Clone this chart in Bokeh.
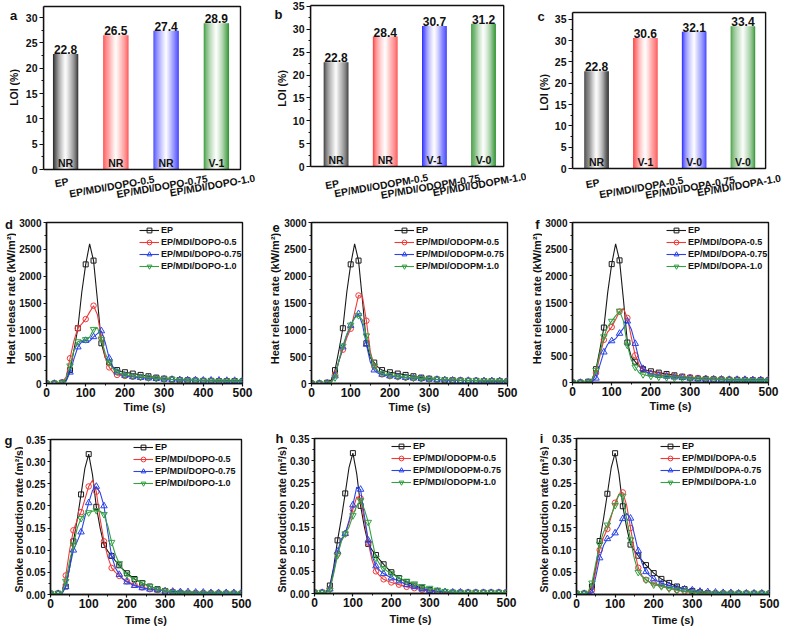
import math
from bokeh.plotting import figure
from bokeh.layouts import row, column
from bokeh.core.properties import value
from bokeh.models import (ColumnDataSource, FixedTicker, Label, LabelSet, Legend, BoxAnnotation,
                          LegendItem, Range1d, PrintfTickFormatter)
from bokeh.embed import file_html
from bokeh.resources import INLINE

# ---------------- data ----------------
cats_dopo = ["EP", "EP/MDI/DOPO-0.5", "EP/MDI/DOPO-0.75", "EP/MDI/DOPO-1.0"]
cats_odopm = ["EP", "EP/MDI/ODOPM-0.5", "EP/MDI/ODOPM-0.75", "EP/MDI/ODOPM-1.0"]
cats_dopa = ["EP", "EP/MDI/DOPA-0.5", "EP/MDI/DOPA-0.75", "EP/MDI/DOPA-1.0"]

loi_dopo = [22.8, 26.5, 27.4, 28.9]
loi_odopm = [22.8, 28.4, 30.7, 31.2]
loi_dopa = [22.8, 30.6, 32.1, 33.4]

ul94_dopo = ["NR", "NR", "NR", "V-1"]
ul94_odopm = ["NR", "NR", "V-1", "V-0"]
ul94_dopa = ["NR", "V-1", "V-0", "V-0"]

time_s = [0, 10, 20, 30, 40, 50, 60, 70, 80, 90, 100, 110, 120, 130, 140, 150, 160, 170, 180, 190, 200,
          220, 240, 260, 280, 300, 320, 340, 360, 380, 400, 420, 440, 460, 480, 500]

hrr_ep = [0, 0, 0, 5, 15, 60, 250, 620, 1030, 1700, 2220, 2600, 2290, 1550, 750, 480, 390, 300, 250, 225, 210,
          185, 160, 135, 110, 90, 75, 65, 60, 55, 50, 50, 45, 45, 45, 40]
hrr_dopo_05 = [0, 0, 0, 5, 20, 120, 470, 800, 1030, 1110, 1200, 1330, 1450, 1280, 850, 480, 300, 210, 160, 150, 140,
               125, 115, 105, 95, 85, 75, 65, 60, 55, 50, 50, 45, 45, 40, 40]
hrr_dopo_075 = [0, 0, 0, 0, 5, 40, 210, 460, 680, 780, 800, 790, 870, 930, 980, 760, 470, 300, 210, 170, 150,
                125, 110, 100, 90, 80, 75, 70, 65, 65, 60, 60, 60, 55, 55, 55]
hrr_dopo_10 = [0, 0, 0, 3, 15, 90, 330, 620, 780, 800, 820, 860, 1010, 1040, 820, 560, 390, 270, 220, 180, 160,
               140, 125, 110, 100, 85, 75, 65, 60, 55, 50, 50, 45, 45, 45, 40]

hrr_odopm_05 = [0, 0, 0, 0, 5, 20, 170, 420, 630, 850, 1020, 1320, 1640, 1620, 1170, 600, 320, 220, 170, 150, 140,
                125, 110, 100, 90, 80, 75, 70, 65, 60, 55, 55, 50, 50, 50, 50]
hrr_odopm_075 = [0, 0, 0, 0, 5, 20, 140, 420, 680, 900, 1080, 1230, 1300, 1100, 730, 400, 250, 190, 170, 155, 140,
                 125, 110, 100, 90, 80, 75, 65, 60, 55, 55, 50, 50, 50, 50, 50]
hrr_odopm_10 = [0, 0, 0, 0, 5, 20, 110, 430, 700, 920, 1090, 1220, 1270, 1180, 890, 550, 330, 230, 190, 165, 150,
                130, 115, 105, 95, 85, 75, 70, 65, 60, 55, 55, 50, 50, 50, 45]

hrr_dopa_05 = [0, 0, 0, 0, 5, 30, 180, 500, 800, 950, 1040, 1180, 1330, 1390, 1210, 850, 510, 330, 230, 190, 170,
               150, 130, 115, 105, 95, 85, 75, 70, 65, 60, 55, 55, 50, 50, 50]
hrr_dopa_075 = [0, 0, 0, 0, 3, 15, 80, 330, 570, 720, 780, 820, 920, 1020, 1150, 1000, 730, 420, 260, 190, 160,
                130, 115, 100, 90, 80, 70, 65, 60, 60, 55, 55, 55, 50, 50, 50]
hrr_dopa_10 = [0, 0, 0, 0, 10, 60, 230, 560, 860, 1050, 1150, 1250, 1340, 1150, 700, 420, 290, 180, 150, 130, 120,
               105, 95, 85, 80, 70, 65, 60, 55, 50, 50, 45, 45, 40, 40, 40]

spr_ep = [0.002, 0.002, 0.002, 0.003, 0.018, 0.06, 0.12, 0.17, 0.226, 0.285, 0.317, 0.27, 0.198, 0.15, 0.112,
          0.098, 0.087, 0.076, 0.066, 0.057, 0.048, 0.035, 0.026, 0.018, 0.012, 0.008, 0.005, 0.003, 0.002, 0.002,
          0.002, 0.002, 0.002, 0.002, 0.002, 0.002]
spr_dopo_05 = [0.002, 0.002, 0.002, 0.003, 0.043, 0.1, 0.145, 0.168, 0.186, 0.215, 0.244, 0.258, 0.232, 0.17,
               0.12, 0.085, 0.06, 0.05, 0.042, 0.035, 0.03, 0.022, 0.016, 0.012, 0.01, 0.008, 0.006, 0.005, 0.004,
               0.003, 0.003, 0.003, 0.002, 0.002, 0.002, 0.002]
spr_dopo_075 = [0.002, 0.002, 0.002, 0.002, 0.018, 0.06, 0.1, 0.12, 0.141, 0.175, 0.207, 0.235, 0.244, 0.23,
                0.2, 0.14, 0.087, 0.06, 0.045, 0.035, 0.028, 0.02, 0.015, 0.012, 0.01, 0.008, 0.007, 0.006, 0.006,
                0.005, 0.005, 0.004, 0.004, 0.004, 0.004, 0.004]
spr_dopo_10 = [0.002, 0.002, 0.002, 0.003, 0.03, 0.075, 0.112, 0.15, 0.172, 0.182, 0.185, 0.188, 0.19, 0.188,
               0.181, 0.155, 0.118, 0.09, 0.07, 0.055, 0.045, 0.034, 0.026, 0.018, 0.012, 0.008, 0.005, 0.004,
               0.003, 0.002, 0.002, 0.002, 0.002, 0.002, 0.002, 0.002]

spr_odopm_05 = [0.002, 0.002, 0.002, 0.002, 0.01, 0.05, 0.09, 0.12, 0.135, 0.16, 0.19, 0.218, 0.215, 0.165,
                0.115, 0.075, 0.05, 0.04, 0.032, 0.028, 0.025, 0.02, 0.015, 0.012, 0.008, 0.005, 0.004, 0.003,
                0.002, 0.002, 0.002, 0.002, 0.002, 0.002, 0.002, 0.002]
spr_odopm_075 = [0.002, 0.002, 0.002, 0.002, 0.01, 0.055, 0.095, 0.123, 0.135, 0.165, 0.2, 0.24, 0.235, 0.175,
                 0.12, 0.085, 0.062, 0.052, 0.045, 0.04, 0.035, 0.028, 0.02, 0.015, 0.01, 0.007, 0.005, 0.004,
                 0.003, 0.003, 0.002, 0.002, 0.002, 0.002, 0.002, 0.002]
spr_odopm_10 = [0.002, 0.002, 0.002, 0.002, 0.008, 0.045, 0.086, 0.118, 0.135, 0.15, 0.176, 0.198, 0.21, 0.19,
                0.161, 0.12, 0.08, 0.066, 0.057, 0.05, 0.045, 0.035, 0.028, 0.022, 0.016, 0.012, 0.008, 0.005,
                0.003, 0.002, 0.002, 0.002, 0.002, 0.002, 0.002, 0.002]

spr_dopa_05 = [0.002, 0.002, 0.002, 0.002, 0.01, 0.055, 0.1, 0.128, 0.147, 0.175, 0.206, 0.225, 0.229, 0.2,
               0.149, 0.1, 0.06, 0.042, 0.033, 0.028, 0.025, 0.02, 0.015, 0.01, 0.007, 0.005, 0.004, 0.003, 0.002,
               0.002, 0.002, 0.002, 0.002, 0.002, 0.002, 0.002]
spr_dopa_075 = [0.002, 0.002, 0.002, 0.002, 0.003, 0.04, 0.082, 0.11, 0.125, 0.128, 0.138, 0.152, 0.17, 0.182,
                0.171, 0.135, 0.098, 0.07, 0.051, 0.042, 0.035, 0.025, 0.02, 0.015, 0.012, 0.01, 0.007, 0.006,
                0.005, 0.004, 0.004, 0.003, 0.003, 0.003, 0.003, 0.003]
spr_dopa_10 = [0.002, 0.002, 0.002, 0.005, 0.026, 0.07, 0.113, 0.14, 0.156, 0.178, 0.2, 0.225, 0.221, 0.17,
               0.123, 0.08, 0.05, 0.04, 0.033, 0.027, 0.022, 0.018, 0.013, 0.01, 0.007, 0.005, 0.003, 0.002,
               0.002, 0.002, 0.002, 0.002, 0.002, 0.002, 0.002, 0.002]

loi_ticks = [0, 5, 10, 15, 20, 25, 30, 35]
hrr_ticks = [0, 500, 1000, 1500, 2000, 2500, 3000]
spr_ticks = [0.0, 0.05, 0.10, 0.15, 0.20, 0.25, 0.30, 0.35]
time_ticks = [0, 100, 200, 300, 400, 500]

# ---------------- style ----------------
FONT = "Liberation Sans"
INK = "#111111"
SER_COLORS = ["#1a1a1a", "#f03a3a", "#2a44e8", "#34a043"]
MARKERS = ["square", "circle", "triangle", "inverted_triangle"]
MSIZE = [5, 5.5, 6.5, 6.5]
BAR_COLORS = ["#1a1a1a", "#ff3232", "#1e1eff", "#228b22"]


def box(fig):
    # wrap a figure so that Bokeh does not align its frame with its neighbours
    return column(fig)


def mix(hexc, w):
    r, g, b = int(hexc[1:3], 16), int(hexc[3:5], 16), int(hexc[5:7], 16)
    return "#%02x%02x%02x" % tuple(int(round(c + (255 - c) * w)) for c in (r, g, b))


def style_axis(ax):
    ax.axis_line_color = INK
    ax.axis_line_width = 1.4
    ax.major_tick_line_color = INK
    ax.major_tick_line_width = 1.2
    ax.minor_tick_line_color = INK
    ax.minor_tick_line_width = 1.0
    ax.major_tick_in = 0
    ax.major_tick_out = 3
    ax.minor_tick_in = 0
    ax.minor_tick_out = 2
    ax.major_label_text_font = FONT
    ax.major_label_text_font_style = "bold"
    ax.major_label_text_color = INK
    ax.major_label_standoff = 2


def blank_fig(w, h, xr, yr):
    p = figure(width=w, height=h, x_range=Range1d(*xr), y_range=Range1d(*yr),
               output_backend="svg", toolbar_location=None, x_axis_type=None, y_axis_type=None,
               min_border_left=0, min_border_right=0, min_border_top=0, min_border_bottom=0)
    p.outline_line_color = None
    p.background_fill_color = "white"
    p.border_fill_color = "white"
    p.xgrid.visible = False
    p.ygrid.visible = False
    return p


def margin_fig(w, h, letter, letter_xy, title, title_xy, title_size):
    """Narrow strip left of a panel holding the panel letter and the y title (pixel coords, y down)."""
    p = blank_fig(w, h, (0, w), (h, 0))
    p.add_layout(Label(x=letter_xy[0], y=letter_xy[1], text=letter, text_align="center",
                       text_baseline="middle", text_font=FONT, text_font_style="bold",
                       text_font_size="13px", text_color=INK))
    p.add_layout(Label(x=title_xy[0], y=title_xy[1], text=title, angle=math.pi / 2,
                       text_align="center", text_baseline="middle", text_font=FONT,
                       text_font_style="bold", text_font_size=title_size, text_color=INK))
    return box(p)


def bar_panel(vals, ratings, cats, w, h, bl, br, bt, bb, xr, y_end, cat_off):
    """Bar chart whose frame fills the figure right of the y axis; the plot box is drawn
    as an annotation so the category labels below it stay inside the frame."""
    sx = (br - bl) / (xr[1] - xr[0])
    sy = (bb - bt) / y_end
    x_hi = xr[0] + (w - bl) / sx
    y_hi = y_end + bt / sy
    y_lo = -(h - bb) / sy
    p = figure(width=w, height=h, x_range=Range1d(xr[0], x_hi), y_range=Range1d(y_lo, y_hi),
               output_backend="svg", toolbar_location=None, x_axis_type=None,
               min_border_left=bl, min_border_right=0, min_border_top=0, min_border_bottom=0)
    p.xgrid.visible = False
    p.ygrid.visible = False
    p.outline_line_color = None
    p.background_fill_color = "white"
    p.border_fill_color = "white"
    ax = p.yaxis[0]
    style_axis(ax)
    ax.major_tick_out = 4
    ax.major_label_text_font_size = "10.5px"
    ax.bounds = (0, y_end)
    pos = list(range(1, len(vals) + 1))
    n, bw = 26, 0.5
    for k in range(n):
        tt = (k + 0.5) / n
        wt = min(0.97, (1 - abs(2 * tt - 1)) ** 0.7)
        cols = [mix(c, wt) for c in BAR_COLORS]
        xs = [x - bw / 2 + (k + 0.5) * bw / n for x in pos]
        p.vbar(x=xs, bottom=0, top=vals, width=bw / n * 1.2, fill_color=cols, line_color=None)
    yt = [t for t in loi_ticks if t <= y_end]
    ax.ticker = FixedTicker(ticks=yt, minor_ticks=[t + 2.5 for t in yt if t + 2.5 <= y_end])
    p.add_layout(BoxAnnotation(left=xr[0], right=xr[1], bottom=0, top=y_end, fill_alpha=0,
                               line_color=INK, line_width=1.4, line_alpha=1))
    src = ColumnDataSource(dict(x=pos, y=vals, v=["%.1f" % v for v in vals], r=ratings,
                                z=[0] * len(vals), off=cat_off, c=cats))
    common = dict(text_font=value(FONT), text_font_style="bold", text_color=INK, source=src)
    p.add_layout(LabelSet(x="x", y="y", text="v", y_offset=0, text_align="center",
                          text_baseline="bottom", text_font_size="12px", **common))
    p.add_layout(LabelSet(x="x", y="z", text="r", y_offset=1, text_align="center",
                          text_baseline="bottom", text_font_size="10.5px", **common))
    p.add_layout(LabelSet(x="x", y="z", text="c", y_offset="off", x_offset=-4,
                          angle=math.radians(10), text_align="center", text_baseline="middle",
                          text_font_size="10.3px", **common))
    return box(p)


def line_panel(series, names, w, h, borders, y_end, yticks, ystep, yfmt, leg_x, title_standoff):
    l, r, t, b = borders
    p = figure(width=w, height=h, x_range=Range1d(0, 500), y_range=Range1d(0, y_end),
               output_backend="svg", toolbar_location=None,
               min_border_left=l, min_border_right=r, min_border_top=t, min_border_bottom=b)
    p.xgrid.visible = False
    p.ygrid.visible = False
    p.outline_line_color = INK
    p.outline_line_width = 1.4
    p.outline_line_alpha = 1
    p.background_fill_color = "white"
    p.border_fill_color = "white"
    for ax in p.axis:
        style_axis(ax)
    p.yaxis[0].major_label_text_font_size = "10px"
    p.xaxis[0].major_label_text_font_size = "12px"
    p.xaxis[0].major_label_standoff = 1
    fh = h - t - b
    items = []
    tm = [tv for tv in time_s if tv % 20 == 0]
    for ys, name, col, mk, ms in zip(series, names, SER_COLORS, MARKERS, MSIZE):
        lr = p.line(time_s, ys, line_color=col, line_width=1.1)
        my = [y for tv, y in zip(time_s, ys) if tv % 20 == 0]
        sr = p.scatter(tm, my, marker=mk, size=ms, line_color=col, fill_alpha=0, line_width=1.0)
        items.append(LegendItem(label=name, renderers=[lr, sr]))
    p.xaxis[0].ticker = FixedTicker(ticks=time_ticks, minor_ticks=[50, 150, 250, 350, 450])
    p.yaxis[0].ticker = FixedTicker(ticks=yticks, minor_ticks=[tv + ystep / 2 for tv in yticks[:-1]])
    if yfmt:
        p.yaxis[0].formatter = PrintfTickFormatter(format=yfmt)
    p.xaxis[0].axis_label = "Time (s)"
    p.xaxis[0].axis_label_text_font = FONT
    p.xaxis[0].axis_label_text_font_style = "bold"
    p.xaxis[0].axis_label_text_font_size = "11px"
    p.xaxis[0].axis_label_text_color = INK
    p.xaxis[0].axis_label_standoff = title_standoff
    leg = Legend(items=items, location=(leg_x, fh - 2 - 48), orientation="vertical",
                 label_text_font=FONT, label_text_font_style="bold", label_text_font_size="9px",
                 label_text_color=INK, glyph_width=20, glyph_height=12, label_height=12,
                 label_standoff=2, spacing=0, padding=0, margin=0,
                 background_fill_alpha=0, border_line_alpha=0)
    p.add_layout(leg)
    return box(p)


HRR_T = "Heat release rate (kW/m\u00b2)"
SPR_T = "Smoke production rate (m\u00b2/s)"

# ---------------- row 1 : LOI bars (y 0..215) ----------------
ma = margin_fig(20, 215, "a", (13, 15), "LOI (%)", (13, 87), "10.5px")
pa = bar_panel(loi_dopo, ul94_dopo, cats_dopo, 243, 215, 23, 220, 6, 169, (0.56, 4.48), 32.2,
               [-13, -17, -17, -16])
mb = margin_fig(26, 215, "b", (15, 14), "LOI (%)", (18, 88), "10.5px")
pb = bar_panel(loi_odopm, ul94_odopm, cats_odopm, 237, 215, 19, 214, 5, 166, (0.48, 4.41), 35.2,
               [-18, -19, -20, -18])
mc = margin_fig(25, 215, "c", (14.5, 15.5), "LOI (%)", (17, 92), "10.5px")
pc = bar_panel(loi_dopa, ul94_dopa, cats_dopa, 236, 215, 20, 214, 12, 168, (0.506, 4.465), 36.6,
               [-15, -19, -19, -17])

# ---------------- row 2 : HRR (y 215..415) ----------------
md = margin_fig(16, 200, "d", (8.5, 9), HRR_T, (10.5, 83), "11px")
pd_ = line_panel([hrr_ep, hrr_dopo_05, hrr_dopo_075, hrr_dopo_10], cats_dopo, 247, 200,
                 (28, 21, 7, 32), 3000, hrr_ticks, 500, None, 93, 1)
me = margin_fig(18, 200, "e", (12.5, 12), HRR_T, (11, 83), "11px")
pe = line_panel([hrr_ep, hrr_odopm_05, hrr_odopm_075, hrr_odopm_10], cats_odopm, 245, 200,
                (29, 19, 7, 32), 3000, hrr_ticks, 500, None, 83, 1)
mf = margin_fig(16, 200, "f", (11, 9), HRR_T, (10, 83), "11px")
pf = line_panel([hrr_ep, hrr_dopa_05, hrr_dopa_075, hrr_dopa_10], cats_dopa, 245, 200,
                (28, 19, 7, 33), 3000, hrr_ticks, 500, None, 94, 1)

# ---------------- row 3 : SPR (y 415..628) ----------------
mg = margin_fig(23, 213, "g", (8, 24.5), SPR_T, (18, 104), "10.5px")
pg = line_panel([spr_ep, spr_dopo_05, spr_dopo_075, spr_dopo_10], cats_dopo, 240, 213,
                (25, 22, 24, 34), 0.35, spr_ticks, 0.05, "%.2f", 83, 3)
mh = margin_fig(24, 213, "h", (16, 23), SPR_T, (18, 104), "10.5px")
ph = line_panel([spr_ep, spr_odopm_05, spr_odopm_075, spr_odopm_10], cats_odopm, 239, 213,
                (25, 20, 23, 35), 0.35, spr_ticks, 0.05, "%.2f", 77, 3)
mi = margin_fig(23, 213, "i", (15, 23), SPR_T, (17, 104), "10.5px")
pi_ = line_panel([spr_ep, spr_dopa_05, spr_dopa_075, spr_dopa_10], cats_dopa, 238, 213,
                 (25, 18, 23, 34), 0.35, spr_ticks, 0.05, "%.2f", 84, 3)

layout = column(row(ma, pa, mb, pb, mc, pc),
                row(md, pd_, me, pe, mf, pf),
                row(mg, pg, mh, ph, mi, pi_))

open("out.html", "w").write(file_html(layout, INLINE))
